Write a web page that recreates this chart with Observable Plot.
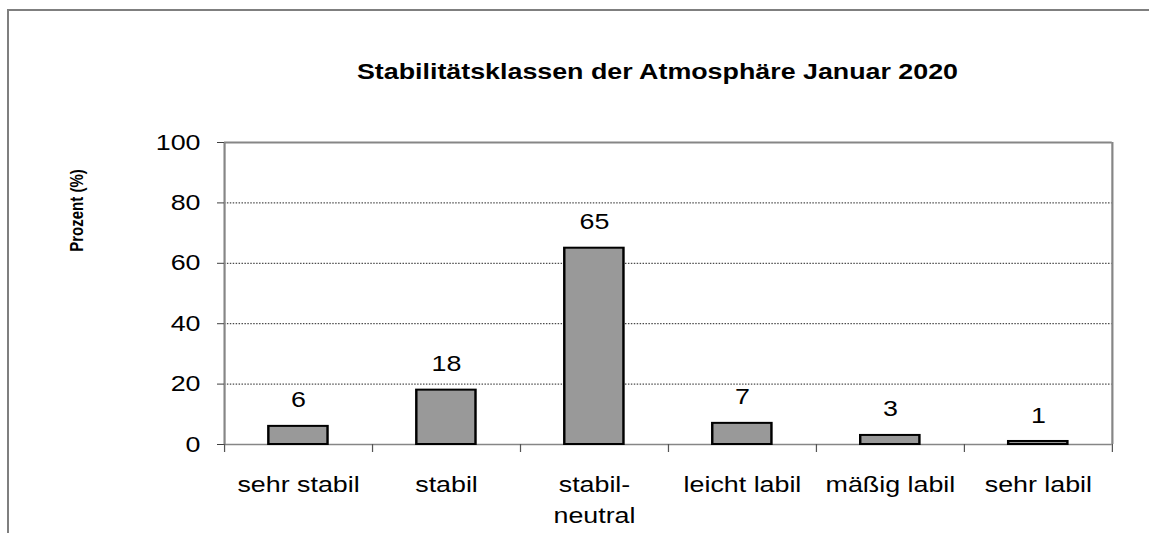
<!DOCTYPE html>
<html>
<head>
<meta charset="utf-8">
<script src="https://cdn.jsdelivr.net/npm/d3@7"></script>
<script src="https://cdn.jsdelivr.net/npm/@observablehq/plot@0.6"></script>
<style>
  html, body { margin: 0; padding: 0; background: #fff; overflow: hidden; width: 1149px; height: 533px; }
  #frame { position: absolute; left: 7px; top: 9px; width: 2000px; height: 2000px;
           border-top: 2px solid #7f7f7f; border-left: 2px solid #7f7f7f; }
  #chart { position: absolute; left: 0; top: 0; width: 1149px; height: 533px; }
</style>
</head>
<body>
<div id="frame"></div>
<div id="chart"></div>
<script>
const title = "Stabilitätsklassen der Atmosphäre Januar 2020";
const yLabel = "Prozent (%)";
const categories = ["sehr stabil", "stabil", "stabil-\nneutral", "leicht labil", "mäßig labil", "sehr labil"];
const values = [6, 18, 65, 7, 3, 1];
const yTicks = [0, 20, 40, 60, 80, 100];
const gridValues = [20, 40, 60, 80];

const data = categories.map((c, i) => ({i, category: c, value: values[i]}));
const boundaries = d3.range(categories.length + 1);

// The reference is horizontally stretched; draw in narrower internal units and stretch.
const stretch = 1.22;
const W = Math.round(1149 / stretch);
const H = 533;
const font = "'Liberation Sans', Arial, sans-serif";

const chart = Plot.plot({
  width: W,
  height: H,
  marginLeft: 224 / stretch,
  marginRight: W - 1112 / stretch,
  marginTop: 142,
  marginBottom: 89,
  style: {fontFamily: font, color: "black", background: "transparent", overflow: "visible"},
  x: {domain: [0, categories.length]},
  y: {domain: [0, 100]},
  marks: [
    Plot.ruleY(gridValues, {stroke: "black", strokeWidth: 0.8, strokeDasharray: "1.2,1.2"}),
    Plot.ruleY([100], {stroke: "#868686", strokeWidth: 2}),
    Plot.ruleX([0, categories.length], {y1: 0, y2: 100, stroke: "#868686", strokeWidth: 1.8}),
    Plot.ruleY([0], {stroke: "#868686", strokeWidth: 1.6}),
    Plot.axisX({ticks: boundaries, tickSize: 8, tickFormat: () => "", stroke: "#555"}),
    Plot.rectY(data, {x1: d => d.i + 0.3, x2: d => d.i + 0.7, y: "value",
      fill: "#999999", stroke: "black", strokeWidth: 2}),
    Plot.text(data, {x: d => d.i + 0.5, y: "value", text: d => String(d.value),
      dy: -26, fontSize: 22, lineAnchor: "middle", fill: "black"}),
    Plot.text(data, {x: d => d.i + 0.5, frameAnchor: "bottom", text: "category",
      lineAnchor: "top", dy: 25, lineHeight: 1.41, fontSize: 22, fill: "black"}),
    Plot.axisY({ticks: yTicks, tickSize: 5.7, tickPadding: 14, fontSize: 22,
      stroke: "#404040", fill: "black", label: null}),
    Plot.text([title], {frameAnchor: "top", dx: -9, dy: -71, lineAnchor: "middle",
      fontSize: 22, fontWeight: "bold", fill: "black"}),
    Plot.text([yLabel], {frameAnchor: "left", rotate: -90, dx: -120.6, dy: -83,
      textAnchor: "middle", lineAnchor: "middle",
      fontSize: 15, fontWeight: "bold", fill: "black"})
  ]
});

chart.setAttribute("preserveAspectRatio", "none");
chart.setAttribute("width", 1149);
chart.setAttribute("height", 533);
chart.style.width = "1149px";
chart.style.height = "533px";
document.getElementById("chart").appendChild(chart);
</script>
</body>
</html>
